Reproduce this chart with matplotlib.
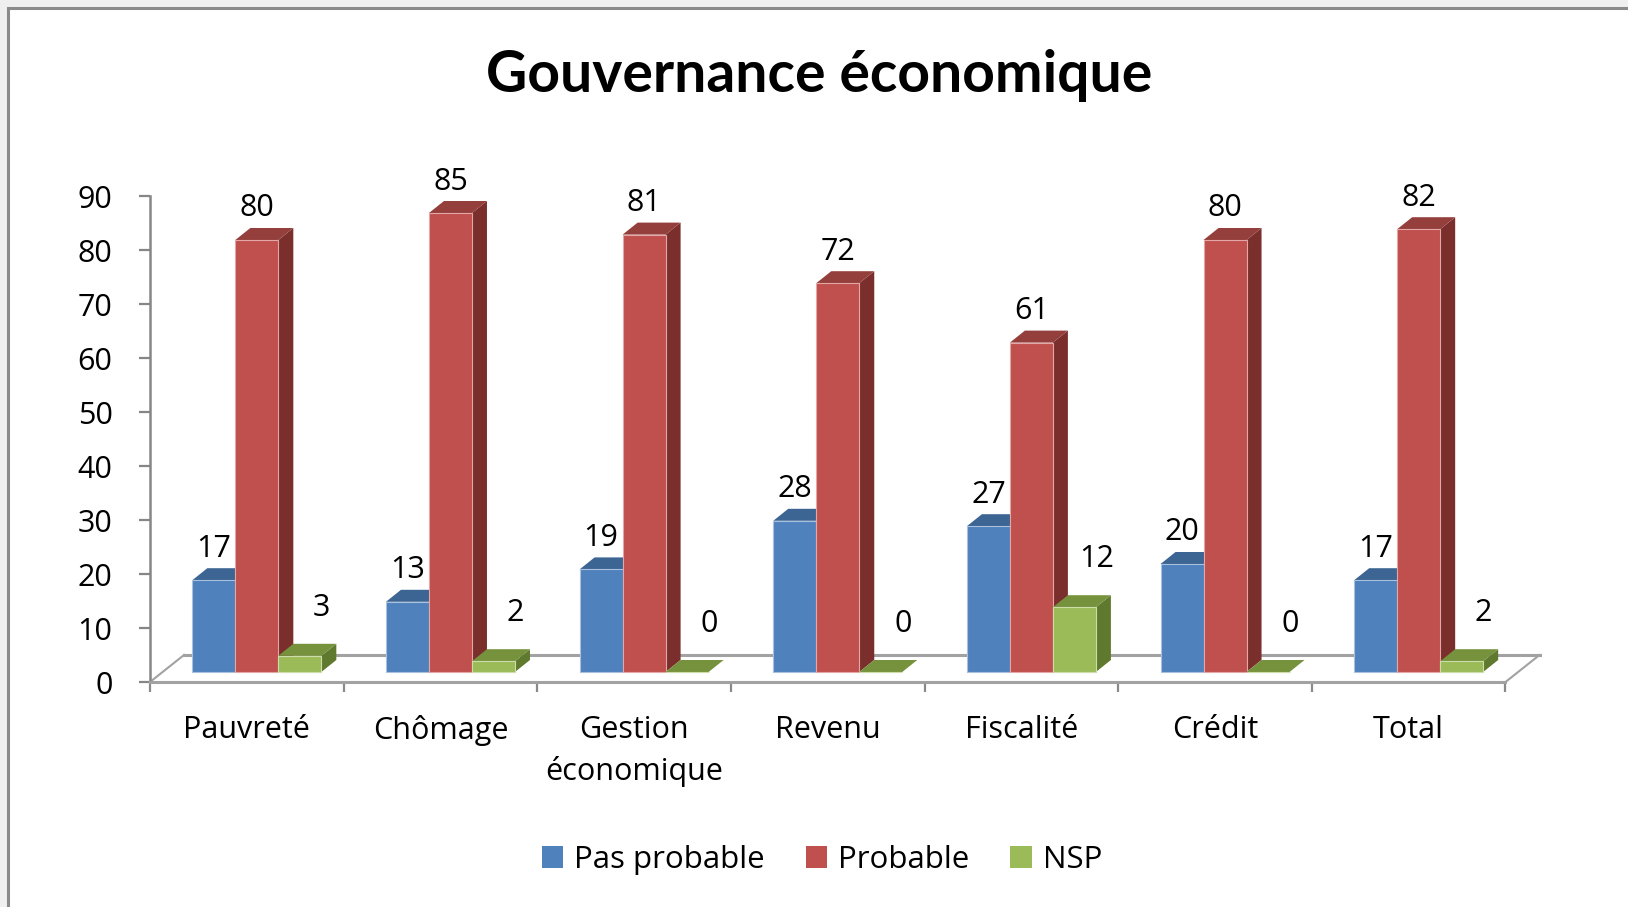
import matplotlib
matplotlib.use("Agg")
import matplotlib.pyplot as plt
from matplotlib.patches import Polygon, Rectangle, Patch

categories = ["Pauvreté", "Chômage", "Gestion\néconomique", "Revenu", "Fiscalité", "Crédit", "Total"]
pas_probable = [17, 13, 19, 28, 27, 20, 17]
probable = [80, 85, 81, 72, 61, 80, 82]
nsp = [3, 2, 0, 0, 12, 0, 2]
series_names = ["Pas probable", "Probable", "NSP"]
yticks = [0, 10, 20, 30, 40, 50, 60, 70, 80, 90]
title = "Gouvernance économique"

FONT = "Open Sans"
plt.rcParams["font.family"] = [FONT, "DejaVu Sans"]

W, H = 1628, 907
fig = plt.figure(figsize=(W / 100, H / 100), dpi=100)
fig.patch.set_facecolor("#EFEFEF")

def fx(px):
    return px / W

def fy(py):
    return 1 - py / H

# chart area frame (white, grey border on top/left)
frame = Rectangle((fx(8), fy(H + 20)), fx(W + 20), (H + 12) / H,
                  transform=fig.transFigure, facecolor="white",
                  edgecolor="#8A8A8A", linewidth=2.2, zorder=-10)
fig.add_artist(frame)

x0_px, x1_px = 150, 1505.5
y0_px, y90_px = 682, 196
ax = fig.add_axes([fx(x0_px), fy(y0_px), (x1_px - x0_px) / W, (y0_px - y90_px) / H])
ax.set_zorder(1)
ax.set_xlim(-0.5, len(categories) - 0.5)
ax.set_ylim(0, 90)
ax.patch.set_alpha(0)

ux = (x1_px - x0_px) / len(categories)   # px per x unit
uy = (y0_px - y90_px) / 90.0             # px per y unit

# floor geometry
fdx, fdy = 34 / ux, 27 / uy
n = len(categories)
line_col = "#A2A2A2"
ax.plot([-0.5 + fdx, n - 0.5 + fdx], [fdy, fdy], color=line_col, lw=2.2, clip_on=False, zorder=1)
ax.plot([-0.5, -0.5 + fdx], [0, fdy], color=line_col, lw=1.5, clip_on=False, zorder=1)
ax.plot([n - 0.5, n - 0.5 + fdx], [0, fdy], color=line_col, lw=1.5, clip_on=False, zorder=1)

# bars (pseudo-3D)
bw = 43 / ux
shift = 10 / ux
base = 10 / uy
ddx, ddy = 15 / ux, 12 / uy
front_cols = ["#4F81BD", "#C0504D", "#9BBB59"]
top_cols = ["#3D6594", "#943F3C", "#76923C"]
side_cols = ["#34567F", "#7A2F2D", "#5F7A2E"]
edge_cols = ["#A9C1DF", "#E2A7A6", "#CCDDAA"]
data = [pas_probable, probable, nsp]

z = 3
for j, vals in enumerate(data):
    xs = [i + shift + (j - 1) * bw for i in range(n)]
    for x, v in zip(xs, vals):
        left, right = x - bw / 2, x + bw / 2
        top = base + v
        side = Polygon([(right, base), (right + ddx, base + ddy), (right + ddx, top + ddy), (right, top)],
                       closed=True, facecolor=side_cols[j], edgecolor="none", clip_on=False, zorder=z)
        ax.add_patch(side)
        tp = Polygon([(left, top), (left + ddx, top + ddy), (right + ddx, top + ddy), (right, top)],
                     closed=True, facecolor=top_cols[j], edgecolor="none", clip_on=False, zorder=z)
        ax.add_patch(tp)
    ax.bar(xs, vals, width=bw, bottom=base, color=front_cols[j], edgecolor=edge_cols[j],
           linewidth=0.8, zorder=z + 0.5, clip_on=False)
    z += 1

# data labels
lab_fs = 22
for j, vals in enumerate(data):
    for i, v in enumerate(vals):
        x = i + shift + (j - 1) * bw
        if j < 2:
            ax.text(x, base + v + 23.5 / uy, f"{v}", ha="center", va="baseline",
                    fontsize=lab_fs, color="black", zorder=10)
        else:
            ax.text(x + 22 / ux, base + v + 40 / uy, f"{v}", ha="center", va="baseline",
                    fontsize=lab_fs, color="black", zorder=10)

# axes styling
for s in ["top", "right"]:
    ax.spines[s].set_visible(False)
ax.spines["left"].set_color("#868686")
ax.spines["left"].set_linewidth(1.8)
ax.spines["bottom"].set_color(line_col)
ax.spines["bottom"].set_linewidth(2.2)
ax.set_yticks(yticks)
ax.set_yticklabels([str(t) for t in yticks])
ax.tick_params(axis="y", direction="out", length=8, width=1.6, color="#868686",
               labelsize=22, pad=19)

ax.set_xticks([i - 0.5 for i in range(n + 1)])
ax.set_xticklabels([""] * (n + 1))
ax.set_xticks(range(n), minor=True)
ax.set_xticklabels(categories, minor=True, fontsize=22, linespacing=1.45, va="top")
ax.tick_params(axis="x", which="major", direction="out", length=7, width=1.6, color="#8A8A8A")
ax.tick_params(axis="x", which="minor", length=0, pad=24)

fig.text(fx(819), fy(75), title, ha="center", va="center", fontsize=41, fontweight="bold",
         family=["Lato", "DejaVu Sans"])

handles = [Patch(facecolor=c, edgecolor="none") for c in front_cols]
fig.legend(handles, series_names, loc="center", bbox_to_anchor=(fx(822), fy(860)),
           ncol=3, frameon=False, fontsize=22.5, handlelength=0.7, handleheight=0.7,
           handletextpad=0.35, columnspacing=1.3)

fig.savefig("out.png", dpi=100, facecolor=fig.get_facecolor())
